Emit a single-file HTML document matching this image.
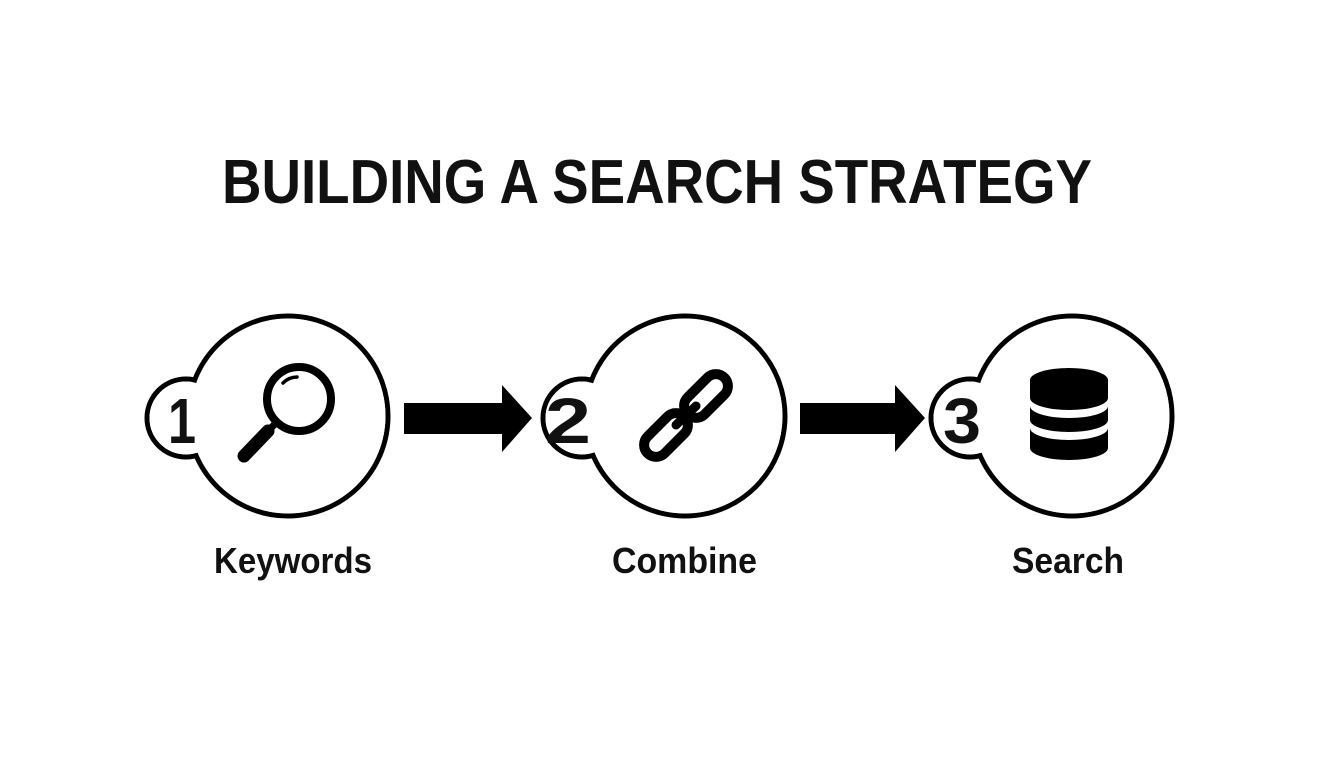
<!DOCTYPE html>
<html><head><meta charset="utf-8"><style>
html,body{margin:0;padding:0;background:#fff;}
svg{display:block;}
text{font-family:"Liberation Sans",sans-serif;font-weight:bold;fill:#111;}
</style></head><body>
<svg width="1344" height="768" viewBox="0 0 1344 768" xmlns="http://www.w3.org/2000/svg">
<rect width="1344" height="768" fill="#fff"/>
<text x="222" y="203" font-size="62" textLength="870" lengthAdjust="spacingAndGlyphs">BUILDING A SEARCH STRATEGY</text>

<g stroke="#000" stroke-width="5" fill="#fff">
  <circle cx="186" cy="418" r="39"/>
  <circle cx="288" cy="416" r="100"/>
  <circle cx="582" cy="418" r="39"/>
  <circle cx="685" cy="416" r="100"/>
  <circle cx="970" cy="418" r="39"/>
  <circle cx="1072" cy="416" r="100"/>
</g>
<g fill="#fff">
  <circle cx="186" cy="418" r="36.5"/>
  <circle cx="288" cy="416" r="97.5"/>
  <circle cx="582" cy="418" r="36.5"/>
  <circle cx="685" cy="416" r="97.5"/>
  <circle cx="970" cy="418" r="36.5"/>
  <circle cx="1072" cy="416" r="97.5"/>
</g>

<text x="168" y="443" font-size="64" textLength="28" lengthAdjust="spacingAndGlyphs">1</text>
<text x="545" y="443" font-size="64" textLength="46" lengthAdjust="spacingAndGlyphs">2</text>
<text x="943" y="443" font-size="64" textLength="38" lengthAdjust="spacingAndGlyphs">3</text>

<polygon points="404,403 502,403 502,385 532,418 502,452 502,434 404,434" fill="#000"/>
<polygon points="800,403 895,403 895,385 925,418 895,452 895,434 800,434" fill="#000"/>

<!-- magnifier -->
<circle cx="299" cy="399" r="32" fill="none" stroke="#000" stroke-width="8"/>
<path d="M283,383 A20,20 0 0 1 297,377" fill="none" stroke="#000" stroke-width="3.5" stroke-linecap="round"/>
<line x1="278" y1="421" x2="268" y2="431" stroke="#000" stroke-width="7"/>
<line x1="268" y1="431" x2="244" y2="456" stroke="#000" stroke-width="13" stroke-linecap="round"/>

<!-- chain -->
<g fill="none" stroke="#000" stroke-width="10">
  <rect x="-26" y="-12" width="52" height="24" rx="12" transform="translate(706,396) rotate(-45)"/>
  <rect x="-26" y="-12" width="52" height="24" rx="12" transform="translate(666,435) rotate(-45)"/>
</g>
<line x1="676" y1="425" x2="696" y2="406" stroke="#000" stroke-width="9" stroke-linecap="round"/>

<!-- database -->
<g fill="#000">
  <path d="M1030,380 A39,12 0 0 1 1108,380 L1108,398 A39,12 0 0 1 1030,398 Z"/>
  <path d="M1030,406 A39,12 0 0 0 1108,406 L1108,420 A39,12 0 0 1 1030,420 Z"/>
  <path d="M1030,428 A39,12 0 0 0 1108,428 L1108,448 A39,12 0 0 1 1030,448 Z"/>
</g>

<text x="214" y="573" font-size="36" textLength="158" lengthAdjust="spacingAndGlyphs">Keywords</text>
<text x="612" y="573" font-size="36" textLength="145" lengthAdjust="spacingAndGlyphs">Combine</text>
<text x="1012" y="573" font-size="36" textLength="112" lengthAdjust="spacingAndGlyphs">Search</text>
</svg>
</body></html>
